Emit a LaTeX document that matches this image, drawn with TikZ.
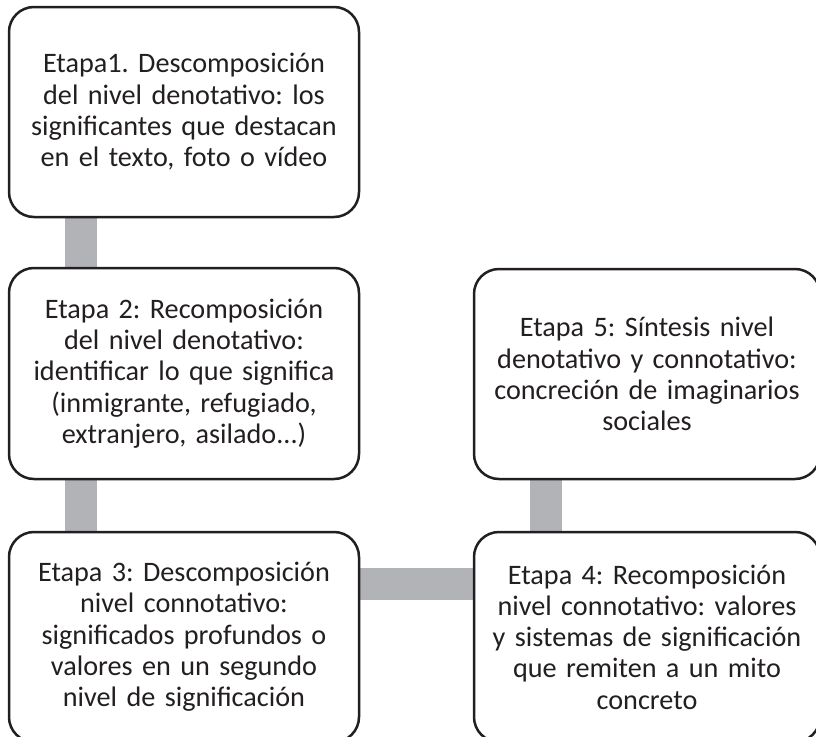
\documentclass[tikz,border=0pt]{standalone}
\usepackage{fontspec}
\setmainfont{Carlito}
\usetikzlibrary{backgrounds}
\definecolor{txt}{RGB}{35,31,32}
\definecolor{bar}{RGB}{177,179,182}
\frenchspacing
\begin{document}
\begin{tikzpicture}[x=1pt,y=-1pt,
  stage/.style={draw=txt, line width=2.5pt, rounded corners=25pt, fill=white,
    minimum width=350pt, minimum height=210pt, inner sep=0pt,
    text width=340pt, align=center, text=txt,
    font=\fontsize{28.2}{31.3}\selectfont},
  conn/.style={draw=bar, line width=32pt}]
\useasboundingbox (0,0) rectangle (816,736);
\clip (0,0) rectangle (816,736);
\node[stage] (b1) at (184,112) {Etapa1. Descomposición\\del nivel denotativo: los\\significantes que destacan\\en el texto, foto o vídeo};
\node[stage, minimum height=211pt] (b2) at (184,373.5) {Etapa 2: Recomposición\\del nivel denotativo:\\identificar lo que significa\\(inmigrante, refugiado,\\extranjero, asilado...)};
\node[stage] (b3) at (184,637) {Etapa 3: Descomposición\\nivel connotativo:\\significados profundos o\\valores en un segundo\\nivel de significación};
\node[stage, minimum width=346pt] (b4) at (647,637) {Etapa 4: Recomposición\\nivel connotativo: valores\\y sistemas de significación\\que remiten a un mito\\concreto};
\node[stage, minimum width=346pt] (b5) at (647,374) {Etapa 5: Síntesis nivel\\denotativo y connotativo:\\concreción de imaginarios\\sociales};
\coordinate (cx1) at (81,0);
\coordinate (cx2) at (546,0);
\coordinate (cy) at (0,583.5);
\begin{scope}[on background layer]
\draw[conn] (b1.south -| cx1) -- (b2.north -| cx1);
\draw[conn] (b2.south -| cx1) -- (b3.north -| cx1);
\draw[conn] (b3.east |- cy) -- (b4.west |- cy);
\draw[conn] (b5.south -| cx2) -- (b4.north -| cx2);
\end{scope}
\end{tikzpicture}
\end{document}
